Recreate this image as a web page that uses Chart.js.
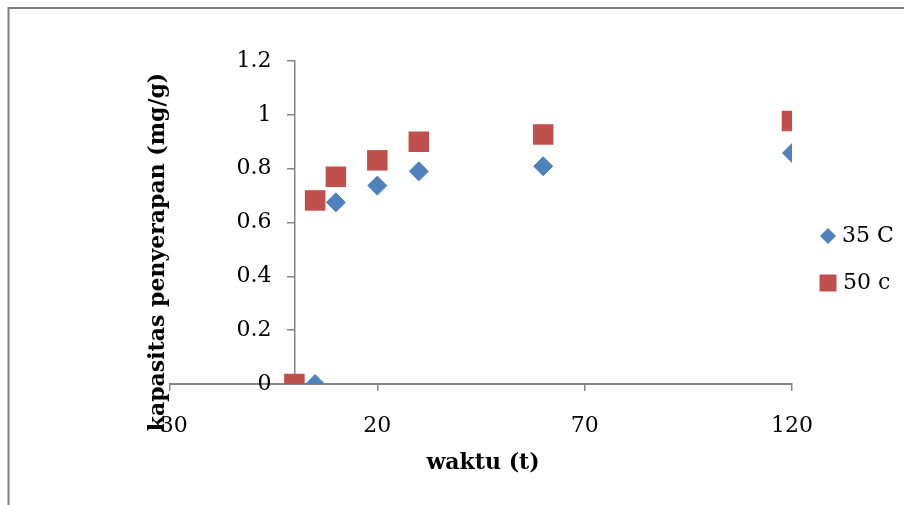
<!DOCTYPE html>
<html>
<head>
<meta charset="utf-8">
<script src="https://cdn.jsdelivr.net/npm/chart.js@4.4.0/dist/chart.umd.min.js"></script>
<style>
  html, body { margin: 0; padding: 0; background: #fff; }
  canvas { display: block; }
</style>
</head>
<body>
<canvas id="c" width="904" height="505"></canvas>
<script>
// ---- data ----
const series35Label = "35 C";
const series35X = [5, 10, 20, 30, 60, 120];
const series35Y = [0, 0.675, 0.737, 0.79, 0.809, 0.858];

const series50Label = "50 c";
const series50X = [0, 5, 10, 20, 30, 60, 120];
const series50Y = [0, 0.682, 0.77, 0.831, 0.9, 0.927, 0.977];

const xTickValues = [-30, 20, 70, 120];
const yTickValues = [0, 0.2, 0.4, 0.6, 0.8, 1, 1.2];

const xTitle = "waktu (t)";
const yTitle = "kapasitas penyerapan (mg/g)";

const toPoints = (xs, ys) => xs.map((x, i) => ({ x: x, y: ys[i] }));

const AXIS_COLOR = "#868686";
const TICK_FONT = { family: "DejaVu Serif", size: 22 };
const Y_LABEL_SHIFT = 23; // tick length + label padding, left of the crossing axis

const framePlugin = {
  id: "frame",
  beforeDraw(chart) {
    const ctx = chart.ctx;
    ctx.save();
    ctx.fillStyle = "#fff";
    ctx.fillRect(0, 0, chart.width, chart.height);
    ctx.strokeStyle = "#808080";
    ctx.lineWidth = 2;
    ctx.beginPath();
    ctx.moveTo(8.5, chart.height + 2);
    ctx.lineTo(8.5, 8);
    ctx.lineTo(chart.width + 2, 8);
    ctx.stroke();
    ctx.restore();
  }
};

// y axis crosses at x = 0: keep its tick labels on the left side of the axis line
const yLabelSidePlugin = {
  id: "yLabelSide",
  afterLayout(chart) {
    const s = chart.scales.y;
    if (s._shiftPatched) return;
    s._shiftPatched = true;
    const origLabels = s.drawLabels;
    s.drawLabels = function (area) {
      const ctx = this.ctx;
      ctx.save();
      ctx.translate(-Y_LABEL_SHIFT, 0);
      origLabels.call(this, area);
      ctx.restore();
    };
  }
};

const titlesPlugin = {
  id: "titles",
  afterDraw(chart) {
    const ctx = chart.ctx;
    const xs = chart.scales.x;
    ctx.save();
    ctx.fillStyle = "#000";
    ctx.font = "bold 22px 'DejaVu Serif'";
    ctx.textAlign = "center";
    ctx.textBaseline = "middle";
    ctx.fillText(xTitle, (xs.left + xs.right) / 2 + 2, 463);
    ctx.translate(158, 252);
    ctx.rotate(-Math.PI / 2);
    ctx.fillText(yTitle, 0, 0);
    ctx.restore();
  }
};

const legendPlugin = {
  id: "customLegend",
  afterDraw(chart) {
    const ctx = chart.ctx;
    const ds = chart.data.datasets;
    ctx.save();
    ctx.font = "22px 'DejaVu Serif'";
    ctx.textAlign = "left";
    ctx.textBaseline = "middle";
    let cx = 828, cy = 236;
    ctx.fillStyle = ds[0].backgroundColor;
    ctx.beginPath();
    ctx.moveTo(cx, cy - 8);
    ctx.lineTo(cx + 8, cy);
    ctx.lineTo(cx, cy + 8);
    ctx.lineTo(cx - 8, cy);
    ctx.closePath();
    ctx.fill();
    ctx.fillStyle = "#000";
    ctx.fillText(ds[0].label, 842, cy);
    cy = 283;
    ctx.fillStyle = ds[1].backgroundColor;
    ctx.fillRect(cx - 8.5, cy - 8.5, 17, 17);
    ctx.fillStyle = "#000";
    ctx.fillText(ds[1].label, 843, cy);
    ctx.restore();
  }
};

new Chart(document.getElementById("c"), {
  type: "scatter",
  data: {
    datasets: [
      {
        label: series35Label,
        data: toPoints(series35X, series35Y),
        pointStyle: "rectRot",
        radius: 9.5,
        hoverRadius: 9.5,
        backgroundColor: "#4F81BD",
        borderColor: "#4F81BD",
        borderWidth: 1
      },
      {
        label: series50Label,
        data: toPoints(series50X, series50Y),
        pointStyle: "rect",
        radius: 14.5,
        hoverRadius: 14.5,
        backgroundColor: "#C0504D",
        borderColor: "#C0504D",
        borderWidth: 0
      }
    ]
  },
  options: {
    responsive: false,
    animation: false,
    events: [],
    layout: { padding: { left: 170, right: 112, top: 61, bottom: 61 } },
    plugins: {
      legend: { display: false },
      tooltip: { enabled: false }
    },
    scales: {
      x: {
        type: "linear",
        position: "bottom",
        min: -30,
        max: 120,
        afterFit(scale) { scale.height = 60; },
        afterBuildTicks(scale) { scale.ticks = xTickValues.map(v => ({ value: v })); },
        ticks: {
          font: TICK_FONT,
          color: "#000",
          padding: 22,
          maxRotation: 0,
          autoSkip: false,
          callback: v => String(v)
        },
        grid: {
          display: true,
          drawOnChartArea: false,
          drawTicks: true,
          tickLength: 7,
          color: AXIS_COLOR,
          lineWidth: 1.5
        },
        border: { display: true, color: AXIS_COLOR, width: 2 }
      },
      y: {
        type: "linear",
        position: { x: 0 },
        min: 0,
        max: 1.2,
        afterBuildTicks(scale) { scale.ticks = yTickValues.map(v => ({ value: v })); },
        ticks: {
          font: TICK_FONT,
          color: "#000",
          padding: 16,
          autoSkip: false,
          callback: v => String(v)
        },
        grid: {
          display: true,
          drawOnChartArea: false,
          drawTicks: true,
          tickLength: 7,
          color: AXIS_COLOR,
          lineWidth: 1.5
        },
        border: { display: true, color: AXIS_COLOR, width: 1.5 }
      }
    }
  },
  plugins: [framePlugin, yLabelSidePlugin, titlesPlugin, legendPlugin]
});
</script>
</body>
</html>
